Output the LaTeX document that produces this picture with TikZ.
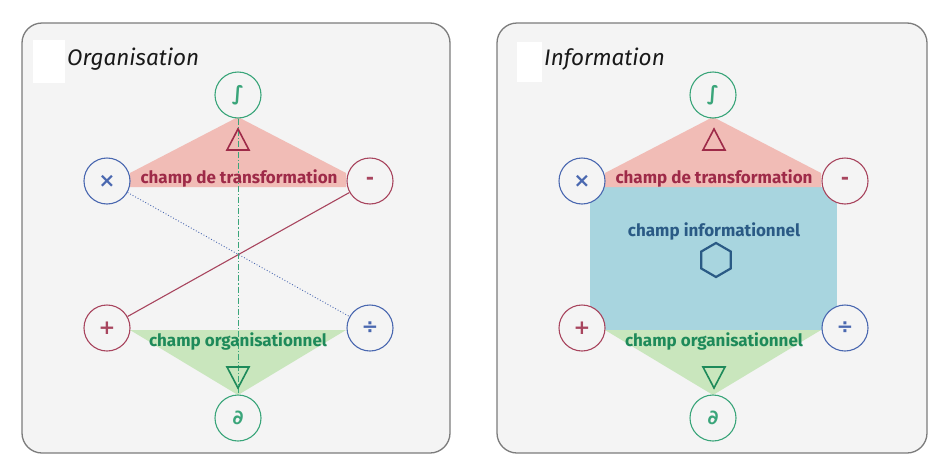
\documentclass[tikz,border=0pt]{standalone}
\usepackage{fontspec}
\setmainfont{Fira Sans}
\newfontfamily\symf{DejaVu Sans}
\definecolor{panelbg}{HTML}{F4F4F4}
\definecolor{panelborder}{HTML}{7C7C7C}
\definecolor{redfill}{HTML}{F1BCB6}
\definecolor{greenfill}{HTML}{C9E6BD}
\definecolor{bluefill}{HTML}{A8D5DF}
\definecolor{redtext}{HTML}{9E2A48}
\definecolor{greentext}{HTML}{1E8A5A}
\definecolor{bluetext}{HTML}{2A5A85}
\definecolor{circgreen}{HTML}{3AA57A}
\definecolor{circred}{HTML}{A8455E}
\definecolor{circblue}{HTML}{4A68B0}
\tikzset{
  panel/.style={fill=panelbg, draw=panelborder, line width=1.3pt, rounded corners=20pt},
  opnode/.style={circle, draw=#1, text=#1, line width=1.1pt, fill=panelbg, minimum size=46pt, inner sep=0pt, font=\symf\bfseries\fontsize{20}{20}\selectfont},
  fieldlabel/.style={font=\bfseries\fontsize{17}{17}\selectfont, text=#1},
  titlelabel/.style={font=\itshape\fontsize{22.5}{22.5}\selectfont, anchor=base west, inner sep=0pt, text=black!90},
  sym/.style={line width=1.6pt, line join=miter}
}
\begin{document}
\begin{tikzpicture}[x=1pt,y=-1pt]
\useasboundingbox (0,0) rectangle (943,461);
\fill[white] (0,0) rectangle (943,461);

% ---------- Left panel: Organisation ----------
\draw[panel] (22,23) rectangle (450,453);
\fill[white] (33,40) rectangle (65,83);
\node[titlelabel] (tleft) at (67,65) {Organisation};
\fill[redfill] (238,117) -- (130,173) -- (130,187) -- (346,187) -- (346,173) -- cycle;
\fill[greenfill] (130,330) -- (346,330) -- (238,395) -- cycle;
\node[opnode=circgreen] (aint) at (238,95) {∫};
\node[opnode=circblue] (atimes) at (107,181) {×};
\node[opnode=circred] (aminus) at (370,181) {-};
\node[opnode=circred] (aplus) at (107,328) {+};
\node[opnode=circblue] (adiv) at (370,328) {÷};
\node[opnode=circgreen] (apart) at (238,418) {∂};
\draw[circred, line width=1.1pt] (aminus) -- (aplus);
\draw[circblue, line width=0.9pt, dotted] (atimes) -- (adiv);
\draw[circgreen, line width=1pt, dash pattern=on 6pt off 2pt on 1.2pt off 2pt] (aint) -- (apart);
\draw[sym, draw=redtext] (238,129) -- (249,150) -- (227,150) -- cycle;
\draw[sym, draw=greentext] (227,367) -- (249,367) -- (238,388) -- cycle;
\node[fieldlabel=redtext] (aredlbl) at (239,178) {champ de transformation};
\node[fieldlabel=greentext] (agreenlbl) at (238,341) {champ organisationnel};

% ---------- Right panel: Information ----------
\draw[panel] (497,23) rectangle (927,453);
\fill[white] (517,42) rectangle (542,82);
\node[titlelabel] (tright) at (544,65) {Information};
\fill[bluefill] (590,187) rectangle (837,330);
\fill[redfill] (713,117) -- (605,173) -- (605,187) -- (821,187) -- (821,173) -- cycle;
\fill[greenfill] (605,330) -- (821,330) -- (713,395) -- cycle;
\node[opnode=circgreen] (bint) at (713,95) {∫};
\node[opnode=circblue] (btimes) at (582,181) {×};
\node[opnode=circred] (bminus) at (845,181) {-};
\node[opnode=circred] (bplus) at (582,328) {+};
\node[opnode=circblue] (bdiv) at (845,328) {÷};
\node[opnode=circgreen] (bpart) at (713,418) {∂};
\draw[sym, draw=redtext] (714,129) -- (725,150) -- (703,150) -- cycle;
\draw[sym, draw=greentext] (703,367) -- (725,367) -- (714,388) -- cycle;
\draw[line width=2.2pt, draw=bluetext, line join=miter] (716,243) -- (730.7,251.5) -- (730.7,268.5) -- (716,277) -- (701.3,268.5) -- (701.3,251.5) -- cycle;
\node[fieldlabel=redtext] (bredlbl) at (714,178) {champ de transformation};
\node[fieldlabel=bluetext] (bbluelbl) at (714,231) {champ informationnel};
\node[fieldlabel=greentext] (bgreenlbl) at (714,341) {champ organisationnel};
\end{tikzpicture}
\end{document}
